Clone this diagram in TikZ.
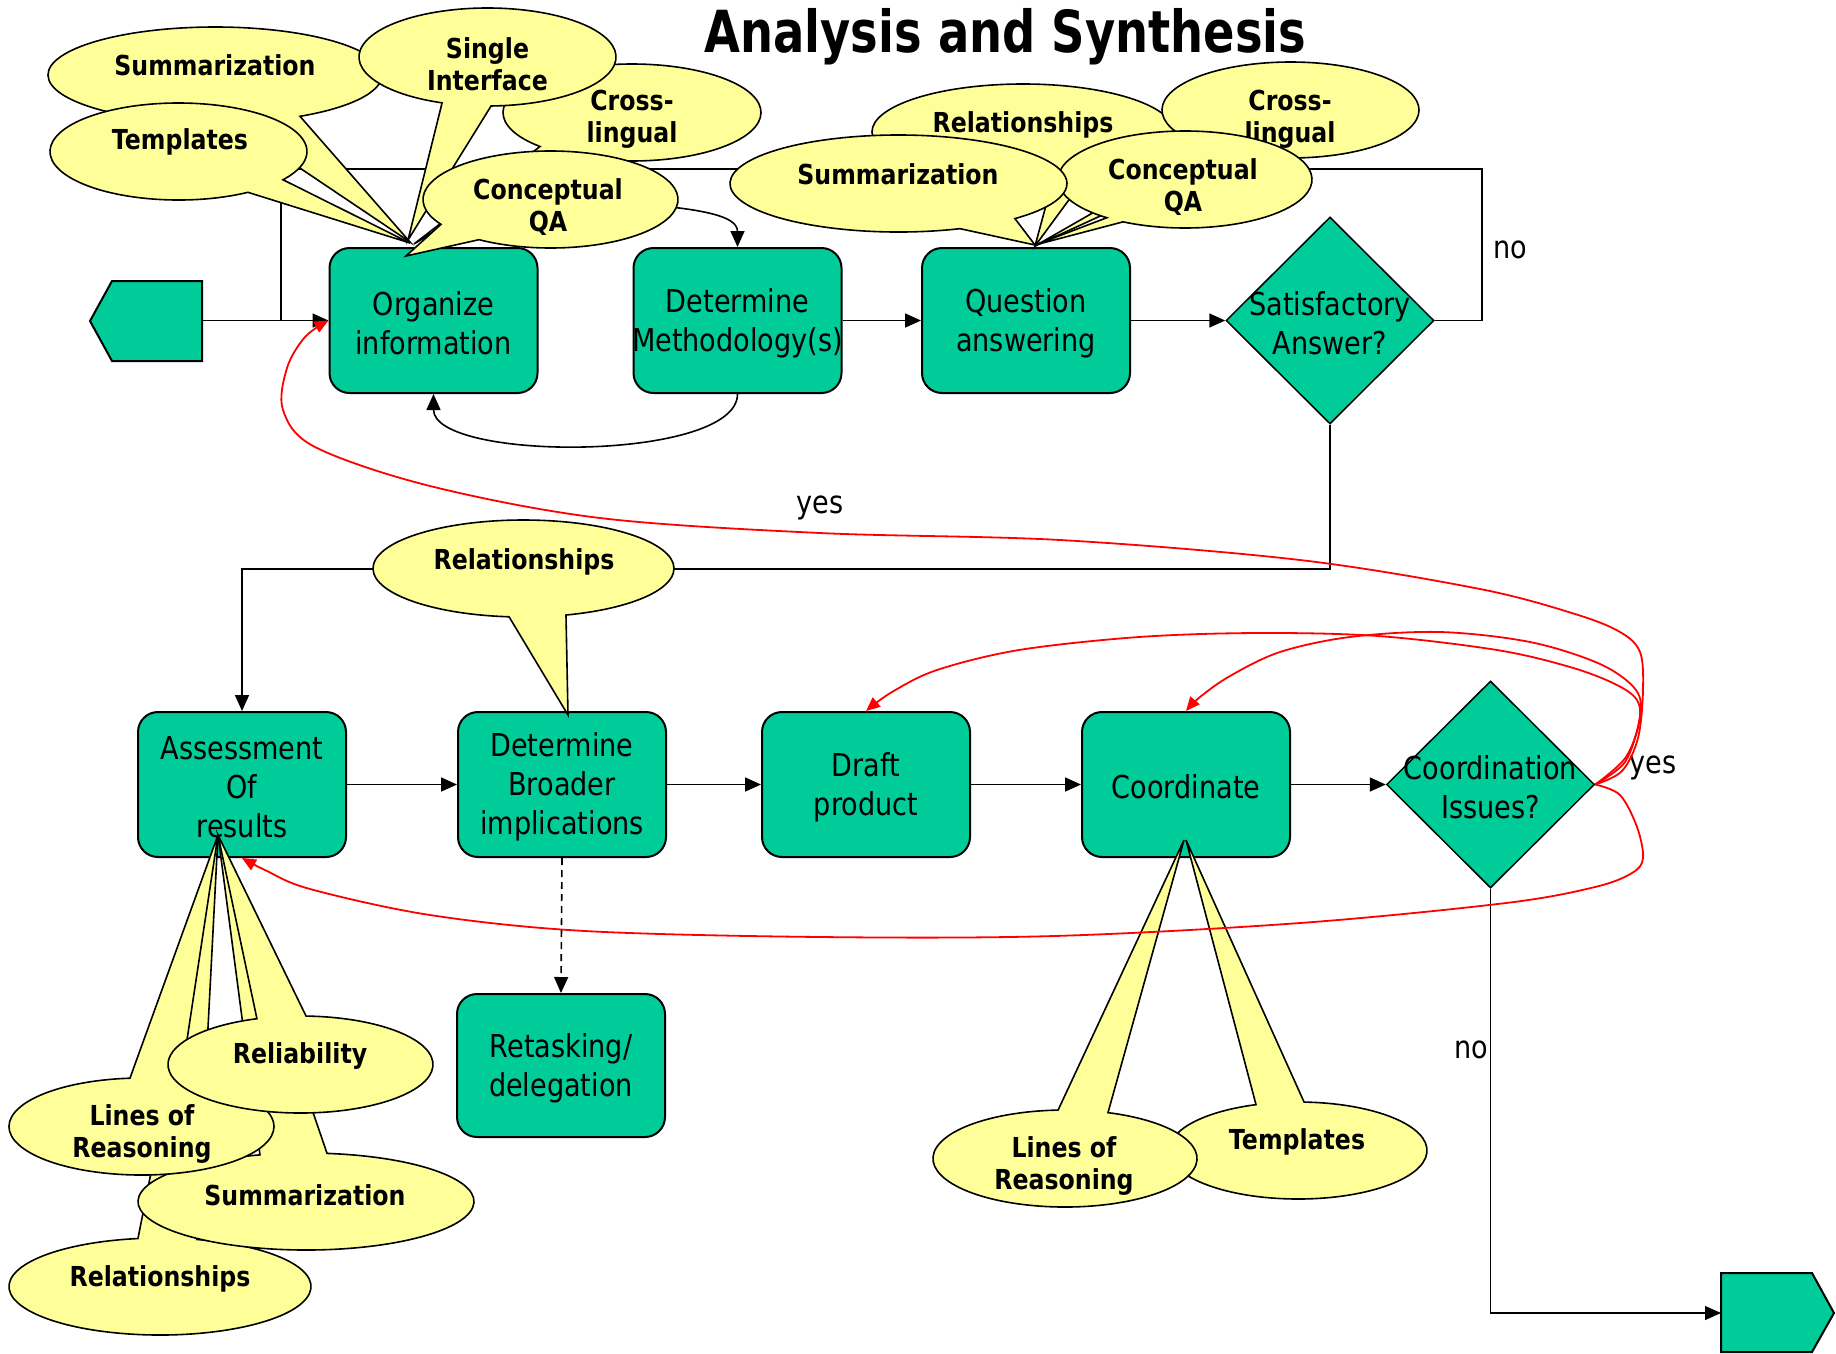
\documentclass[tikz,border=0pt]{standalone}
\usepackage{fontspec}
\setmainfont[FakeStretch=0.86]{DejaVu Sans}
\newfontfamily\titlefont[FakeStretch=0.80]{DejaVu Sans}
\usetikzlibrary{shapes.geometric,arrows.meta}
\definecolor{boxgreen}{RGB}{0,204,153}
\definecolor{calloutyellow}{RGB}{255,255,153}
\newcommand\boxfont{\fontsize{31.5}{39}\selectfont}
\newcommand\calloutfont{\bfseries\fontsize{27.5}{32}\selectfont}
\tikzset{
  box/.style={draw, line width=2pt, fill=boxgreen, rounded corners=20pt, minimum width=208pt, minimum height=145pt, align=center, font=\boxfont, inner sep=0pt},
  dec/.style={diamond, draw, line width=1.5pt, fill=boxgreen, minimum width=208pt, minimum height=207pt, inner sep=0pt},
  lbl/.style={align=center, font=\boxfont, inner sep=0pt},
  ctext/.style={align=center, font=\calloutfont, inner sep=0pt},
  calloutshape/.style={fill=calloutyellow, draw=black, line width=1.6pt, line join=miter},
  conn/.style={line width=1.6pt},
  arr/.style={conn, -{Triangle[length=16pt,width=14pt]}},
  redarr/.style={red, line width=1.8pt, -{Triangle[length=14pt,width=12pt]}},
}
% cx, cy, rx, ry, a1 (smaller base angle), a2 (larger base angle), tip x, tip y
\newcommand{\callout}[8]{%
  \filldraw[calloutshape] (#1,#2) ++(#6:#3 and #4) arc[start angle=#6, end angle=#5+360, x radius=#3, y radius=#4] -- (#7,#8) -- cycle;}
\begin{document}
\begin{tikzpicture}[x=1pt,y=-1pt]
\useasboundingbox (0,0) rectangle (1836,1353);

% title
\node[font=\titlefont\bfseries\fontsize{58}{66}\selectfont, anchor=base, inner sep=0pt] (title) at (1005.5,52) {Analysis and Synthesis};

% boxes
\node[box] (org) at (433.5,320.5) {};
\node[lbl] (orgT) at (433.5,323) {Organize\\information};
\node[box] (det) at (737.5,320.5) {};
\node[lbl] (detT) at (737.5,323) {Determine\\Methodology(s)};
\node[box] (qa) at (1026,320.5) {};
\node[lbl] (qaT) at (1026,323) {Question\\answering};
\node[dec] (sat) at (1330,320.5) {};
\node[lbl] (satT) at (1330,323) {Satisfactory\\Answer?};
\node[box] (assess) at (242,784.5) {};
\node[lbl] (assessT) at (242,787) {Assessment\\Of\\results};
\node[box] (dbi) at (562,784.5) {};
\node[lbl] (dbiT) at (562,787) {Determine\\Broader\\implications};
\node[box] (draft) at (866,784.5) {};
\node[lbl] (draftT) at (866,787) {Draft\\product};
\node[box] (coord) at (1186,784.5) {};
\node[lbl] (coordT) at (1186,787) {Coordinate};
\node[dec] (ci) at (1490.5,784.5) {};
\node[lbl] (ciT) at (1490.5,787) {Coordination\\Issues?};
\node[box, minimum height=143pt] (ret) at (561,1065.5) {};
\node[lbl] (retT) at (561,1068) {Retasking/\\delegation};

% start and end shapes
\filldraw[fill=boxgreen, line width=2pt] (112,281) -- (202,281) -- (202,361) -- (112,361) -- (90,321) -- cycle;
\coordinate (startR) at (202,320.5);
\filldraw[fill=boxgreen, line width=2pt] (1721,1273) -- (1812,1273) -- (1834,1313) -- (1812,1352) -- (1721,1352) -- cycle;
\coordinate (endL) at (1721,1313);

% black connectors
\coordinate (loopA) at (1482,320.5);
\coordinate (loopB) at (1482,169);
\coordinate (loopC) at (281,169);
\coordinate (loopD) at (281,320.5);
\draw[conn] (sat.east) -- (loopA) -- (loopB) -- (loopC) -- (loopD);
\draw[arr] (startR) -- (org.west);
\draw[arr] (det.east) -- (qa.west);
\draw[arr] (qa.east) -- (sat.west);
\draw[arr] (det.south) .. controls (737.5,462) and (433.5,462) .. (org.south);
\coordinate (satDown) at (1330,569);
\coordinate (turn) at (242,569);
\draw[arr] (sat.south) -- (satDown) -- (turn) -- (assess.north);
\draw[arr] (assess.east) -- (dbi.west);
\draw[arr] (dbi.east) -- (draft.west);
\draw[arr] (draft.east) -- (coord.west);
\draw[arr] (coord.east) -- (ci.west);
\draw[arr, dash pattern=on 7pt off 5pt] (dbi.south) -- (ret.north);
\draw[arr, line width=1.3pt] (ci.south) |- (endL);
\coordinate (cqAc) at (560,200);
\draw[arr] (cqAc) .. controls (700,205) and (737.5,215) .. (det.north);

% labels
\node[lbl, anchor=base] (noA) at (1510,258) {no};
\node[lbl, anchor=base] (yesA) at (820,513) {yes};
\node[lbl, anchor=base] (yesB) at (1653,773) {yes};
\node[lbl, anchor=base] (noB) at (1471,1058) {no};

% callouts: top left group
\callout{215}{75}{167}{48}{59.4}{84}{410}{242}
\node[ctext] (sumA) at (215,65) {Summarization};
\callout{178.5}{151.5}{128.5}{48.5}{35.6}{57.3}{410}{243}
\node[ctext] (tplA) at (180,142) {Templates};
\callout{632}{112.5}{129}{48.5}{122.9}{135.5}{414}{244}
\node[ctext] (clA) at (632,119) {Cross-\\lingual};
\callout{487.5}{57}{128.5}{49}{88.4}{110.7}{408}{240}
\node[ctext] (siA) at (487.5,64) {Single\\Interface};
\callout{550.5}{199.5}{127.5}{48.5}{124.1}{149.2}{406}{256}
\node[ctext] (cqA) at (548,207) {Conceptual\\QA};

% callouts: top right group
\callout{1023}{132}{151}{48}{65}{78.5}{1035}{246}
\node[ctext] (relB) at (1023,125) {Relationships};
\callout{1290.5}{110}{128.5}{48}{115}{130}{1035}{246}
\node[ctext] (clB) at (1290,119) {Cross-\\lingual};
\callout{1185}{179.5}{127}{48.5}{119.2}{128}{1035}{245}
\node[ctext] (cqB) at (1183,187) {Conceptual\\QA};
\callout{898.5}{183.5}{168.5}{48.5}{46.3}{68.6}{1035}{245}
\node[ctext] (sumB) at (898,174) {Summarization};

% callout: middle
\callout{523.5}{568.5}{150.5}{48.5}{73.6}{95.5}{568}{715}
\node[ctext] (relC) at (524,562) {Relationships};

% callouts: bottom left group
\callout{160}{1286.5}{151}{48.5}{261.6}{284.2}{218}{835}
\node[ctext] (relD) at (160,1279) {Relationships};
\callout{306}{1201.5}{168}{48.5}{254.1}{277.2}{218}{835}
\node[ctext] (sumC) at (305,1195) {Summarization};
\callout{141.5}{1126.5}{132.5}{48.5}{265}{287.3}{218}{835}
\node[ctext] (lorC) at (142,1134) {Lines of\\Reasoning};
\callout{300.5}{1064.5}{132.5}{48.5}{250.8}{272.4}{218}{835}
\node[ctext] (relyC) at (300,1056) {Reliability};

% callouts: coordinate group
\callout{1298}{1150.5}{129}{48.5}{251}{272.7}{1186}{840}
\node[ctext] (tplD) at (1297,1142) {Templates};
\callout{1065}{1158.5}{132}{48.5}{267}{289}{1184}{840}
\node[ctext] (lorD) at (1064,1166) {Lines of\\Reasoning};

% red feedback curves
\draw[redarr] plot[smooth, tension=0.55] coordinates {(ci.east) (1622,771) (1638,738) (1643,690) (1640,652) (1620,632) (1575,614) (1480,589) (1300,560) (1060,540) (820,533) (600,518) (430,486) (315,447) (283,410) (287,368) (305,337) (org.west)};
\draw[redarr] plot[smooth, tension=0.55] coordinates {(ci.east) (1625,762) (1639,722) (1637,700) (1615,684) (1570,667) (1497,650) (1378,636) (1258,633) (1139,637) (1019,650) (937,670) (892,692) (draft.north)};
\draw[redarr] plot[smooth, tension=0.55] coordinates {(ci.east) (1626,757) (1640,718) (1636,690) (1600,664) (1530,642) (1440,632) (1350,637) (1280,652) (1230,676) (1200,697) (coord.north)};
\draw[redarr] plot[smooth, tension=0.55] coordinates {(ci.east) (1620,795) (1637,827) (1643,858) (1632,873) (1595,887) (1506,903) (1300,923) (1054,936) (820,937) (585,931) (430,915) (310,889) (265,870) (assess.south)};
\end{tikzpicture}
\end{document}
